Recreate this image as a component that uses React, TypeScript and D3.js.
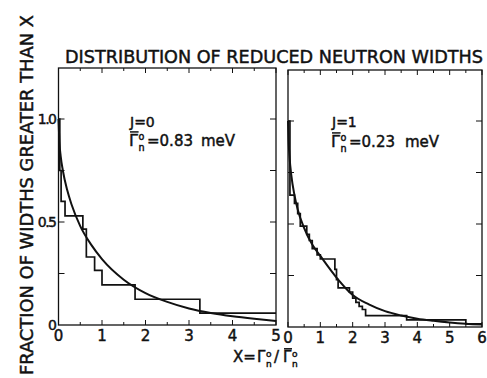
import * as d3 from "d3";

// J=0 panel: histogram step edges / fractions, and smooth theory curve
const j0Edges = [0, 0.03, 0.06, 0.15, 0.56, 0.64, 0.83, 1.0, 1.76, 3.25, 5.0];
const j0Hist = [1.0, 0.75, 0.6, 0.53, 0.465, 0.33, 0.265, 0.195, 0.125, 0.058];
const j0CurveX = [0, 0.02, 0.05, 0.1, 0.2, 0.3, 0.5, 0.75, 1, 1.5, 2, 2.5, 3, 3.5, 4, 4.5, 5];
const j0CurveY = [1.0, 0.89, 0.82, 0.75, 0.655, 0.585, 0.48, 0.39, 0.32, 0.22, 0.155, 0.112, 0.08, 0.058, 0.042, 0.03, 0.02];

// J=1 panel
const j1Edges = [0, 0.06, 0.2, 0.3, 0.38, 0.58, 0.66, 0.75, 0.9, 1.0, 1.45, 1.5, 1.55, 1.9, 2.0, 2.1, 2.2, 2.3, 2.4, 3.67, 5.5, 6.0];
const j1Hist = [1.0, 0.64, 0.6, 0.55, 0.49, 0.45, 0.42, 0.38, 0.35, 0.33, 0.28, 0.23, 0.19, 0.17, 0.14, 0.12, 0.1, 0.085, 0.055, 0.035, 0.015];
const j1CurveX = [0, 0.02, 0.05, 0.1, 0.2, 0.3, 0.5, 0.75, 1, 1.5, 2, 2.5, 3, 3.5, 4, 4.5, 5, 5.5, 6];
const j1CurveY = [1.0, 0.9, 0.82, 0.74, 0.64, 0.57, 0.48, 0.4, 0.345, 0.24, 0.155, 0.11, 0.077, 0.056, 0.04, 0.03, 0.022, 0.016, 0.012];

const yTickLabels = ["0", "0.5", "1.0"];
const yTickVals = [0, 0.5, 1.0];

const FONT = "'DejaVu Sans', sans-serif";
const INK = "#111";
// lettering look: regular glyphs with a thin outline
const ink = { fill: INK, stroke: INK, strokeWidth: 0.45, fontFamily: FONT };

function Gamma({ x, y, size, bar }: { x: number; y: number; size: number; bar?: boolean }) {
  const s = size * 0.6;
  return (
    <g {...ink}>
      <text x={x} y={y} fontSize={size}>Γ</text>
      {bar && (
        <line x1={x + 1} x2={x + size * 0.6} y1={y - size * 0.88} y2={y - size * 0.88} stroke={INK} strokeWidth={1.5} />
      )}
      <text x={x + size * 0.6} y={y - size * 0.36} fontSize={s}>o</text>
      <text x={x + size * 0.6} y={y + size * 0.32} fontSize={s}>n</text>
    </g>
  );
}

interface PanelProps {
  left: number;
  right: number;
  top: number;
  bottom: number;
  xMax: number;
  edges: number[];
  hist: number[];
  cx: number[];
  cy: number[];
  yLabels: boolean;
}

function Panel({ left, right, top, bottom, xMax, edges, hist, cx, cy, yLabels }: PanelProps) {
  const x = d3.scaleLinear().domain([0, xMax]).range([left, right]);
  const y = d3.scaleLinear().domain([0, 1]).range([bottom, bottom - 206]);

  const stepPts: [number, number][] = edges.map((e, i) => [e, hist[Math.min(i, hist.length - 1)]]);
  const stepLine = d3
    .line<[number, number]>()
    .x((d) => x(d[0]))
    .y((d) => y(d[1]))
    .curve(d3.curveStepAfter);

  const curvePts: [number, number][] = cx.map((v, i) => [v, cy[i]]);
  const curveLine = d3
    .line<[number, number]>()
    .x((d) => x(d[0]))
    .y((d) => y(d[1]))
    .curve(d3.curveMonotoneX);

  const minor = d3.range(0, xMax + 0.001, 0.5);
  const yt = d3.range(0.25, 1.26, 0.25).filter((v) => y(v) > top + 2);

  return (
    <g>
      <rect x={left} y={top} width={right - left} height={bottom - top} fill="none" stroke={INK} strokeWidth={1.3} />
      {minor.map((v) => {
        const len = Math.abs(v - Math.round(v)) < 0.01 ? 5 : 3;
        return (
          <g key={v}>
            <line x1={x(v)} x2={x(v)} y1={bottom} y2={bottom - len} stroke={INK} strokeWidth={1} />
            <line x1={x(v)} x2={x(v)} y1={top} y2={top + len} stroke={INK} strokeWidth={1} />
          </g>
        );
      })}
      {yt.map((v) => (
        <g key={v}>
          <line x1={left} x2={left + 6} y1={y(v)} y2={y(v)} stroke={INK} strokeWidth={1} />
          <line x1={right} x2={right - 6} y1={y(v)} y2={y(v)} stroke={INK} strokeWidth={1} />
        </g>
      ))}
      <path d={stepLine(stepPts) ?? ""} fill="none" stroke={INK} strokeWidth={1.7} />
      <path d={curveLine(curvePts) ?? ""} fill="none" stroke={INK} strokeWidth={2} />
      {d3.range(0, xMax + 1).map((v) => (
        <text key={v} x={x(v)} y={bottom + 16} textAnchor="middle" fontSize={15} {...ink}>
          {v}
        </text>
      ))}
      {yLabels &&
        yTickVals.map((v, i) => (
          <text key={v} x={left - 3} y={y(v) + 5} textAnchor="end" fontSize={14} letterSpacing={-1.5} {...ink}>
            {yTickLabels[i]}
          </text>
        ))}
    </g>
  );
}

export default function App() {
  return (
    <svg width={487} height={378} style={{ position: "absolute", left: 0, top: 0, background: "#fff" }}>
      <text x={65} y={63} fontSize={17} textLength={418} lengthAdjust="spacingAndGlyphs" {...ink}>
        DISTRIBUTION OF REDUCED NEUTRON WIDTHS
      </text>
      <text transform="translate(33,375) rotate(-90)" x={0} y={0} fontSize={17} textLength={360} lengthAdjust="spacingAndGlyphs" {...ink}>
        FRACTION OF WIDTHS GREATER THAN X
      </text>

      <Panel left={58.5} right={276} top={68} bottom={325} xMax={5} edges={j0Edges} hist={j0Hist} cx={j0CurveX} cy={j0CurveY} yLabels />
      <Panel left={288} right={482} top={70} bottom={327} xMax={6} edges={j1Edges} hist={j1Hist} cx={j1CurveX} cy={j1CurveY} yLabels={false} />

      <g>
        <text x={130} y={127} fontSize={14} {...ink}>J=0</text>
        <Gamma x={129} y={146} size={16} bar />
        <text x={147} y={146} fontSize={15} {...ink}>=0.83</text>
        <text x={201} y={146} fontSize={15} {...ink}>meV</text>

        <text x={332} y={127} fontSize={14} {...ink}>J=1</text>
        <Gamma x={331} y={147} size={16} bar />
        <text x={349} y={147} fontSize={15} {...ink}>=0.23</text>
        <text x={405} y={147} fontSize={15} {...ink}>meV</text>

        <text x={233} y={362} fontSize={15} {...ink}>X=</text>
        <Gamma x={257} y={362} size={15} />
        <text x={274} y={362} fontSize={15} {...ink}>/</text>
        <Gamma x={283} y={362} size={15} bar />
      </g>
    </svg>
  );
}
